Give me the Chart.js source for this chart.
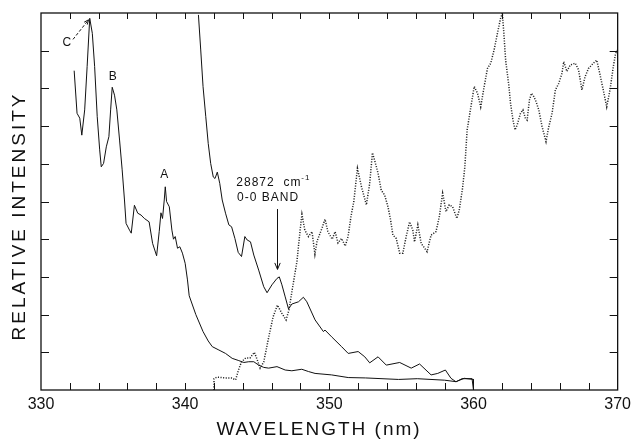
<!DOCTYPE html>
<html>
<head>
<meta charset="utf-8">
<script src="https://cdn.jsdelivr.net/npm/chart.js@4.4.1/dist/chart.umd.min.js"></script>
<style>
html, body { margin: 0; padding: 0; background: #fff; }
canvas { display: block; }
</style>
</head>
<body>
<canvas id="grafico" width="636" height="440"></canvas>
<script>
// Ejes: longitud de onda (nm) e intensidad relativa (sin números)
const xLabels = [330, 340, 350, 360, 370];
const xMin = 330, xMax = 370, xMinorStep = 2;
const yMin = 0, yMax = 10, yStep = 1;

// Curva continua con los picos C, B y A
const curveCbaX = [332.3, 332.5, 332.69, 332.83, 333.03, 333.2, 333.38, 333.56, 333.72, 333.9, 334.07, 334.18, 334.34, 334.53, 334.71, 334.83, 334.94, 335.1, 335.26, 335.45, 335.63, 335.79, 335.9, 336.14, 336.26, 336.48, 336.71, 336.94, 337.17, 337.5, 337.74, 338.02, 338.2, 338.32, 338.43, 338.55, 338.62, 338.71, 338.9, 339.08, 339.19, 339.31, 339.47, 339.63, 339.81, 340.0, 340.16, 340.28, 340.74, 341.24, 341.6, 341.88, 342.34, 342.8, 343.26, 343.72, 344.07, 344.41, 344.76, 345.1, 345.45, 345.79, 346.37, 346.94, 347.4, 348.09, 348.55, 349.01, 350.16, 351.31, 352.5, 354.8, 356.1, 358.0, 358.8, 359.2, 359.9, 360.0];
const curveCbaY = [8.47, 7.34, 7.21, 6.76, 7.43, 8.58, 9.86, 9.46, 8.58, 7.25, 6.37, 5.92, 6.01, 6.45, 6.72, 7.43, 8.03, 7.82, 7.43, 6.63, 5.84, 5.04, 4.42, 4.24, 4.16, 4.9, 4.69, 4.64, 4.55, 4.46, 3.89, 3.56, 4.2, 4.7, 4.55, 5.04, 5.39, 5.0, 4.86, 4.24, 4.0, 4.07, 3.76, 3.8, 3.63, 3.36, 2.92, 2.5, 2.0, 1.55, 1.3, 1.15, 1.06, 0.97, 0.84, 0.78, 0.73, 0.75, 0.75, 0.66, 0.6, 0.58, 0.62, 0.53, 0.51, 0.55, 0.49, 0.44, 0.4, 0.33, 0.32, 0.28, 0.3, 0.26, 0.22, 0.3, 0.3, 0];

// Curva continua que baja desde 341 nm (banda 0-0)
const curveBandX = [340.92, 341.08, 341.24, 341.43, 341.6, 341.77, 341.95, 342.07, 342.23, 342.4, 342.57, 342.8, 343.03, 343.22, 343.45, 343.68, 343.91, 344.14, 344.3, 344.53, 344.76, 345.1, 345.45, 345.68, 346.02, 346.37, 346.53, 346.71, 346.94, 347.17, 347.4, 347.86, 348.2, 348.44, 349.01, 349.59, 349.7, 350.16, 350.85, 351.31, 352.0, 352.46, 352.8, 353.38, 353.95, 354.88, 355.68, 356.26, 357.06, 357.52, 358.05, 358.44, 358.78, 359.36, 360.0, 360.0];
const curveBandY = [9.95, 9.02, 8.05, 7.25, 6.54, 6.01, 5.65, 5.61, 5.78, 5.48, 5.04, 4.69, 4.38, 4.33, 4.02, 3.65, 3.54, 4.07, 3.98, 3.93, 3.58, 3.18, 2.74, 2.58, 2.79, 2.96, 3.0, 2.79, 2.47, 2.15, 2.28, 2.34, 2.46, 2.34, 1.86, 1.55, 1.59, 1.41, 1.15, 0.97, 1.02, 0.88, 0.72, 0.88, 0.66, 0.73, 0.58, 0.69, 0.4, 0.44, 0.53, 0.31, 0.22, 0.31, 0.28, 0];

// Curva punteada (342 - 370 nm)
const dottedX = [342.0, 342.0, 342.2, 342.8, 343.2, 343.5, 343.7, 343.9, 344.2, 344.5, 344.8, 345.0, 345.2, 345.45, 345.8, 346.1, 346.4, 346.7, 347.0, 347.2, 347.4, 347.75, 348.0, 348.1, 348.3, 348.55, 348.8, 349.0, 349.15, 349.5, 349.7, 349.9, 350.2, 350.4, 350.6, 350.85, 351.1, 351.3, 351.5, 351.7, 351.95, 352.23, 352.57, 352.8, 352.99, 353.2, 353.38, 353.6, 353.84, 354.07, 354.25, 354.41, 354.64, 354.88, 355.1, 355.33, 355.57, 355.79, 355.91, 356.14, 356.37, 356.78, 357.06, 357.4, 357.63, 357.86, 357.93, 358.09, 358.32, 358.55, 358.85, 359.01, 359.24, 359.4, 359.56, 359.82, 360.05, 360.28, 360.5, 360.74, 360.97, 361.2, 361.43, 361.66, 361.88, 362.0, 362.1, 362.23, 362.46, 362.57, 362.74, 362.88, 363.03, 363.26, 363.43, 363.6, 363.72, 363.88, 364.02, 364.19, 364.34, 364.53, 364.76, 365.03, 365.22, 365.45, 365.68, 365.91, 366.14, 366.26, 366.48, 366.71, 367.06, 367.29, 367.52, 367.74, 367.98, 368.32, 368.55, 368.78, 369.0, 369.24, 369.47, 369.7, 369.86, 370.0];
const dottedY = [0, 0.3, 0.34, 0.32, 0.32, 0.27, 0.53, 0.74, 0.85, 0.85, 1.0, 0.8, 0.58, 0.74, 1.41, 1.94, 2.25, 2.04, 1.86, 2.12, 2.6, 3.4, 4.33, 4.66, 4.24, 4.07, 4.2, 3.6, 3.95, 4.3, 4.53, 4.2, 4.0, 4.2, 3.9, 4.02, 3.82, 4.07, 4.6, 5.0, 5.88, 5.39, 4.91, 5.48, 6.29, 6.01, 5.75, 5.3, 5.17, 4.86, 4.51, 4.11, 4.02, 3.63, 3.63, 4.07, 4.46, 4.24, 3.93, 4.38, 3.89, 3.67, 4.11, 4.2, 4.6, 5.22, 5.08, 4.73, 4.91, 4.86, 4.55, 4.77, 5.35, 5.92, 6.9, 7.51, 8.05, 7.87, 7.51, 8.05, 8.53, 8.67, 9.02, 9.46, 9.86, 10.0, 9.5, 8.75, 8.05, 7.6, 7.16, 6.9, 7.03, 7.34, 7.43, 7.21, 7.16, 7.69, 7.87, 7.78, 7.65, 7.43, 6.98, 6.59, 6.98, 7.34, 7.96, 8.13, 8.4, 8.71, 8.45, 8.62, 8.67, 8.49, 7.96, 8.31, 8.53, 8.67, 8.75, 8.36, 7.96, 7.51, 7.96, 8.58, 8.93, 9.02];

const ink = '#111';
const fontFamily = "'Liberation Sans', Arial, sans-serif";

function toPoints(xs, ys) {
    return xs.map((x, i) => ({ x: x, y: ys[i] }));
}

function arrowHead(ctx, x0, y0, x1, y1, size) {
    const a = Math.atan2(y1 - y0, x1 - x0);
    ctx.beginPath();
    ctx.moveTo(x1 - size * Math.cos(a - 0.4), y1 - size * Math.sin(a - 0.4));
    ctx.lineTo(x1, y1);
    ctx.lineTo(x1 - size * Math.cos(a + 0.4), y1 - size * Math.sin(a + 0.4));
    ctx.stroke();
}

// Marco, marcas hacia dentro, títulos de ejes y anotaciones
const decorPlugin = {
    id: 'decor',
    afterDraw(chart) {
        const ctx = chart.ctx;
        const area = chart.chartArea;
        const sx = chart.scales.x, sy = chart.scales.y;
        const px = v => sx.getPixelForValue(v);
        const py = v => sy.getPixelForValue(v);

        ctx.save();
        ctx.strokeStyle = ink;
        ctx.fillStyle = ink;
        ctx.lineWidth = 1.3;
        ctx.strokeRect(area.left, area.top, area.right - area.left, area.bottom - area.top);

        ctx.lineWidth = 1;
        ctx.beginPath();
        for (let v = xMin + xMinorStep; v < xMax; v += xMinorStep) {
            const x = Math.round(px(v)) + 0.5;
            ctx.moveTo(x, area.bottom); ctx.lineTo(x, area.bottom - 7);
            ctx.moveTo(x, area.top); ctx.lineTo(x, area.top + 6);
        }
        for (let v = yMin + yStep; v < yMax; v += yStep) {
            const y = Math.round(py(v)) + 0.5;
            ctx.moveTo(area.left, y); ctx.lineTo(area.left + 8, y);
            ctx.moveTo(area.right, y); ctx.lineTo(area.right - 8, y);
        }
        ctx.stroke();

        // Títulos de ejes
        ctx.textAlign = 'center';
        ctx.textBaseline = 'middle';
        ctx.letterSpacing = '2px';
        ctx.font = '19px ' + fontFamily;
        ctx.fillText('WAVELENGTH (nm)', area.left + 278, area.bottom + 40);

        ctx.save();
        ctx.translate(area.left - 21, area.bottom - 174);
        ctx.rotate(-Math.PI / 2);
        ctx.letterSpacing = '3px';
        ctx.fillText('RELATIVE INTENSITY', 0, 0);
        ctx.restore();

        // Letras de los picos
        ctx.letterSpacing = '0px';
        ctx.font = '12px ' + fontFamily;
        ctx.fillText('C', px(331.8), py(9.2));
        ctx.fillText('B', px(334.97), py(8.3));
        ctx.fillText('A', px(338.55), py(5.7));

        // Flecha discontinua hacia el pico C
        ctx.lineWidth = 1;
        ctx.setLineDash([3, 2]);
        const c0x = px(332.22), c0y = py(9.3), c1x = px(333.3), c1y = py(9.82);
        ctx.beginPath();
        ctx.moveTo(c0x, c0y); ctx.lineTo(c1x, c1y);
        ctx.stroke();
        ctx.setLineDash([]);
        arrowHead(ctx, c0x, c0y, c1x, c1y, 5);

        // Banda 0-0
        ctx.letterSpacing = '1px';
        ctx.font = '12px ' + fontFamily;
        ctx.textAlign = 'left';
        const lx = px(343.55);
        ctx.fillText('28872  cm', lx, py(5.49));
        const w = ctx.measureText('28872  cm').width;
        ctx.font = '8px ' + fontFamily;
        ctx.fillText('-1', lx + w, py(5.64));
        ctx.font = '12px ' + fontFamily;
        ctx.textAlign = 'center';
        ctx.fillText('0-0 BAND', px(345.75), py(5.09));

        const ax = Math.round(px(346.34)) + 0.5;
        ctx.beginPath();
        ctx.moveTo(ax, py(4.8)); ctx.lineTo(ax, py(3.2));
        ctx.stroke();
        arrowHead(ctx, ax, py(4.8), ax, py(3.2), 7);
        ctx.restore();
    }
};

new Chart(document.getElementById('grafico').getContext('2d'), {
    type: 'scatter',
    data: {
        datasets: [
            {
                label: 'C B A',
                data: toPoints(curveCbaX, curveCbaY),
                showLine: true,
                borderColor: ink,
                borderWidth: 1,
                pointRadius: 0,
                tension: 0
            },
            {
                label: 'Banda 0-0',
                data: toPoints(curveBandX, curveBandY),
                showLine: true,
                borderColor: ink,
                borderWidth: 1,
                pointRadius: 0,
                tension: 0
            },
            {
                label: 'Punteada',
                data: toPoints(dottedX, dottedY),
                showLine: true,
                borderColor: '#222',
                borderWidth: 1.5,
                borderDash: [1.1, 1.5],
                borderCapStyle: 'butt',
                pointRadius: 0,
                tension: 0
            }
        ]
    },
    options: {
        responsive: false,
        animation: false,
        events: [],
        layout: { padding: { left: 0, top: 13, right: 15, bottom: 14 } },
        plugins: {
            legend: { display: false },
            tooltip: { enabled: false }
        },
        scales: {
            x: {
                type: 'linear',
                min: xMin,
                max: xMax,
                afterBuildTicks: (scale) => { scale.ticks = xLabels.map(v => ({ value: v })); },
                afterFit: (scale) => { scale.height = 36; },
                ticks: {
                    autoSkip: false,
                    maxRotation: 0,
                    padding: 5,
                    color: ink,
                    font: { family: fontFamily, size: 16 }
                },
                grid: { display: false, drawTicks: false },
                border: { display: false }
            },
            y: {
                min: yMin,
                max: yMax,
                afterFit: (scale) => { scale.width = 41; },
                ticks: { display: false, stepSize: yStep },
                grid: { display: false, drawTicks: false },
                border: { display: false }
            }
        }
    },
    plugins: [decorPlugin]
});
</script>
</body>
</html>
